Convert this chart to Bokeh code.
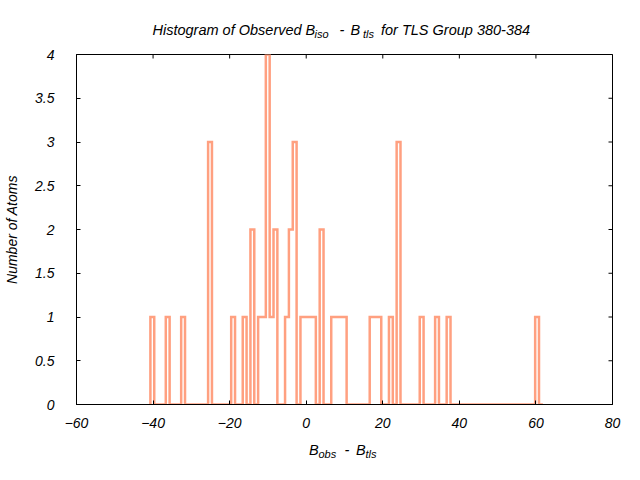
import numpy as np
from bokeh.plotting import figure
from bokeh.layouts import column
from bokeh.models import Range1d, FixedTicker, ColumnDataSource
from bokeh.core.properties import value
from bokeh.embed import file_html
from bokeh.resources import INLINE

# ---- data -------------------------------------------------------------
bin_start = -40.70          # left edge of the first bin (B_obs - B_tls)
bin_width = 1.005
# number of atoms per bin (bins 0..101)
counts = [
    1, 0, 0, 0, 1, 0, 0, 0, 1, 0,
    0, 0, 0, 0, 0, 3, 0, 0, 0, 0,
    0, 1, 0, 0, 1, 0, 2, 0, 1, 1,
    4, 1, 2, 0, 0, 1, 2, 3, 0, 1,
    1, 1, 1, 0, 2, 0, 0, 1, 1, 1,
    1, 0, 0, 0, 0, 0, 0, 1, 1, 1,
    0, 0, 1, 0, 3, 0, 0, 0, 0, 0,
    1, 0, 0, 0, 1, 0, 0, 1, 0, 0,
    0, 0, 0, 0, 0, 0, 0, 0, 0, 0,
    0, 0, 0, 0, 0, 0, 0, 0, 0, 0,
    1, 0,
]
x_ticks = [-60, -40, -20, 0, 20, 40, 60, 80]
y_ticks = [0, 0.5, 1, 1.5, 2, 2.5, 3, 3.5, 4]
y_tick_labels = ["0", "0.5", "1", "1.5", "2", "2.5", "3", "3.5", "4"]

title_parts = ["Histogram of Observed B", "iso", "-", "B", "tls", "for TLS Group 380-384"]
xlabel_parts = ["B", "obs", "-", "B", "tls"]
ylabel_text = "Number of Atoms"

# ---- build step path --------------------------------------------------
edges = bin_start + bin_width * np.arange(len(counts) + 1)
xs = [edges[0]]
ys = [0]
for k, c in enumerate(counts):
    xs += [edges[k], edges[k + 1]]
    ys += [c, c]
xs.append(edges[-1])
ys.append(0)

FONT = "Liberation Sans"
COLOR = "#ffa080"
W = 624
LEFT, RIGHT = 76, 12          # frame spans page x 76..612

# ---- main plot (frame: y 54..404 on the page) --------------------------
TOP_H, MAIN_H, BOT_H = 46, 388, 30

p = figure(width=W, height=MAIN_H, output_backend="svg", toolbar_location=None,
           title=None,
           x_range=Range1d(-60, 80), y_range=Range1d(0, 4),
           min_border_left=LEFT, min_border_right=RIGHT,
           min_border_top=8, min_border_bottom=30)
p.grid.visible = False
p.outline_line_color = "black"
p.outline_line_width = 1
p.background_fill_color = "white"
p.border_fill_color = "white"

p.line(xs, ys, line_color=COLOR, line_width=2.5, line_join="miter")

for ax, ticks, standoff in ((p.xaxis[0], x_ticks, 13), (p.yaxis[0], y_ticks, 22)):
    ax.ticker = FixedTicker(ticks=ticks)
    ax.major_tick_in = 4
    ax.major_tick_out = 0
    ax.minor_tick_line_color = None
    ax.axis_line_color = "black"
    ax.major_tick_line_color = "black"
    ax.major_label_text_font = FONT
    ax.major_label_text_font_style = "italic"
    ax.major_label_text_font_size = "14px"
    ax.major_label_text_color = "black"
    ax.major_label_standoff = standoff
p.yaxis[0].major_label_overrides = {t: l for t, l in zip(y_ticks, y_tick_labels)}
p.yaxis[0].axis_label = ylabel_text
p.yaxis[0].axis_label_text_font = FONT
p.yaxis[0].axis_label_text_font_style = "italic"
p.yaxis[0].axis_label_text_font_size = "14px"
p.yaxis[0].axis_label_text_color = "black"
p.yaxis[0].axis_label_standoff = 12

# mirrored ticks on the top and right border (half of each dash is clipped)
p.scatter(x=x_ticks, y=[4] * len(x_ticks), marker="dash", size=8, angle=np.pi / 2,
          line_color="black", line_width=1)
p.scatter(x=[80] * len(y_ticks), y=y_ticks, marker="dash", size=8,
          line_color="black", line_width=1)


# ---- text strips: frame aligned with the main frame, page-pixel coords --
def text_strip(height, y_top, parts, xs_, ys_, sizes):
    f = figure(width=W, height=height, output_backend="svg", toolbar_location=None,
               title=None,
               x_range=Range1d(LEFT, W - RIGHT), y_range=Range1d(y_top + height, y_top),
               min_border_left=LEFT, min_border_right=RIGHT,
               min_border_top=0, min_border_bottom=0,
               x_axis_type=None, y_axis_type=None)
    f.outline_line_color = None
    f.grid.visible = False
    src = ColumnDataSource(dict(x=xs_, y=ys_, text=parts, size=sizes))
    f.text(x="x", y="y", text="text", source=src, text_font=value(FONT),
           text_font_style="italic", text_font_size="size", text_color="black",
           text_align="left", text_baseline="alphabetic")
    return f


title_fig = text_strip(TOP_H, 0, title_parts,
                       [152.0, 314.0, 339.0, 350.0, 362.5, 380.5],
                       [29.5, 33.5, 29.5, 29.5, 33.5, 29.5],
                       ["14.5px", "11px", "14.5px", "14.5px", "11px", "14.5px"])
xlabel_fig = text_strip(BOT_H, TOP_H + MAIN_H, xlabel_parts,
                        [308.5, 318.0, 344.0, 355.5, 365.0],
                        [449.5, 453.5, 449.5, 449.5, 453.5],
                        ["14.5px", "11px", "14.5px", "14.5px", "11px"])

layout = column(title_fig, p, xlabel_fig, spacing=0)
open("out.html", "w").write(file_html(layout, INLINE))
